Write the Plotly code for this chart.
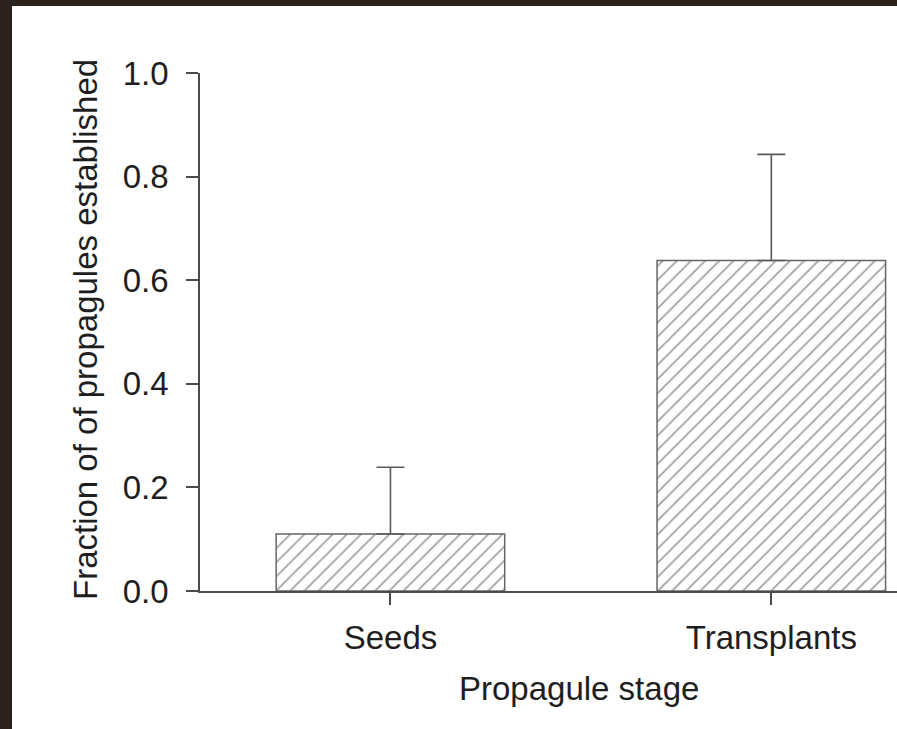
import plotly.graph_objects as go

# Establishment data
stages = ["Seeds", "Transplants"]
fraction_established = [0.11, 0.638]
error_upper = [0.129, 0.205]
y_ticks = [0.0, 0.2, 0.4, 0.6, 0.8, 1.0]
y_tick_labels = ["0.0", "0.2", "0.4", "0.6", "0.8", "1.0"]

W, H = 897, 729
ML, MR, MT, MB = 200, 0, 73, 138
plot_w = W - ML - MR
plot_h = H - MT - MB

def px_x(px):
    return (px - ML) / plot_w

def px_y(py):
    return (H - MB - py) / plot_h

axis_col = "#4a4a4a"
text_col = "#1e1e1e"
font_family = "Liberation Sans, Arial, sans-serif"
fs = 33

fig = go.Figure()
fig.add_trace(go.Bar(
    x=[0, 1],
    y=fraction_established,
    width=0.6,
    marker=dict(
        color="white",
        line=dict(color="#666666", width=1.5),
        pattern=dict(shape="/", size=10, solidity=0.18,
                     fgcolor="#444444", bgcolor="white"),
    ),
    error_y=dict(type="data", symmetric=False, array=error_upper,
                 arrayminus=[0, 0], color="#5a5a5a", thickness=1.6, width=14),
    showlegend=False,
))

fig.update_layout(
    width=W, height=H,
    margin=dict(l=ML, r=MR, t=MT, b=MB, pad=0),
    paper_bgcolor="white",
    plot_bgcolor="white",
    font=dict(family=font_family, size=fs, color=text_col),
    xaxis=dict(
        range=[-0.5, 1.33],
        tickmode="array", tickvals=[0, 1], ticktext=stages,
        ticks="outside", ticklen=12, tickwidth=1.5, tickcolor=axis_col,
        showline=True, linecolor=axis_col, linewidth=1.5,
        showgrid=False, zeroline=False, fixedrange=True,
        ticklabelstandoff=5,
    ),
    yaxis=dict(
        range=[0, 1],
        tickmode="array", tickvals=y_ticks, ticktext=y_tick_labels,
        ticks="outside", ticklen=12, tickwidth=1.5, tickcolor=axis_col,
        showline=True, linecolor=axis_col, linewidth=1.5,
        showgrid=False, zeroline=False, fixedrange=True,
        ticklabelstandoff=11,
    ),
    annotations=[
        dict(text="Propagule stage", xref="paper", yref="paper",
             x=px_x(579), y=px_y(688), xanchor="center", yanchor="middle",
             showarrow=False, font=dict(size=fs, color=text_col)),
        dict(text="Fraction of of propagules established", xref="paper",
             yref="paper", x=px_x(85), y=px_y(330), textangle=-90,
             xanchor="center", yanchor="middle", showarrow=False,
             font=dict(size=fs, color=text_col)),
    ],
    shapes=[
        # dark frame along the top and left edges
        dict(type="rect", xref="paper", yref="paper", layer="above",
             x0=px_x(0), x1=px_x(W), y0=px_y(0), y1=px_y(6),
             fillcolor="#2b221e", line=dict(width=0)),
        dict(type="rect", xref="paper", yref="paper", layer="above",
             x0=px_x(0), x1=px_x(12), y0=px_y(0), y1=px_y(H),
             fillcolor="#2b221e", line=dict(width=0)),
    ],
)

fig.write_html("out.html")
